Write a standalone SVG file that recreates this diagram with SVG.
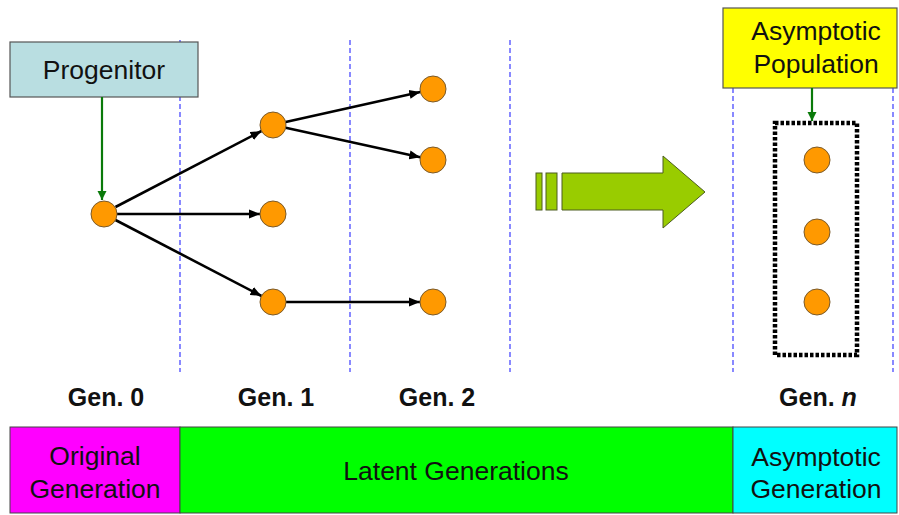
<svg xmlns="http://www.w3.org/2000/svg" width="899" height="515" viewBox="0 0 899 515">
<style>
  .bg { fill: #ffffff; }
  .guide { stroke: #3b3bff; stroke-width: 1.2; stroke-dasharray: 5 3; fill: none; }
  .cell { fill: #FF9900; stroke: #7a5a2a; stroke-width: 1; }
  .edge { stroke: #000000; stroke-width: 2.6; fill: none; }
  .gedge { stroke: #0a7a0a; stroke-width: 2.2; fill: none; }
  .label { font-family: "Liberation Sans", Arial, sans-serif; font-size: 26.5px; fill: #111111; text-anchor: middle; }
  .gen { font-family: "Liberation Sans", Arial, sans-serif; font-size: 25px; font-weight: bold; fill: #111111; text-anchor: middle; }
  .band { stroke: #444444; stroke-width: 1; }
  .bigarrow { fill: #99CC00; stroke: #4d5d20; stroke-width: 1; }
</style>
<defs>
  <marker id="ah" markerUnits="userSpaceOnUse" markerWidth="12" markerHeight="10" refX="11" refY="5" orient="auto">
    <path d="M0,0.5 L11,5 L0,9.5 Z" fill="#000000"/>
  </marker>
  <marker id="gah" markerUnits="userSpaceOnUse" markerWidth="10" markerHeight="10" refX="9" refY="5" orient="auto">
    <path d="M0,0.5 L9,5 L0,9.5 Z" fill="#0a7a0a"/>
  </marker>
</defs>
<rect class="bg" x="0" y="0" width="899" height="515"/>

<g id="guides">
  <line class="guide" x1="180" y1="40" x2="180" y2="372"/>
  <line class="guide" x1="350" y1="40" x2="350" y2="372"/>
  <line class="guide" x1="510" y1="40" x2="510" y2="372"/>
  <line class="guide" x1="733" y1="88" x2="733" y2="372"/>
  <line class="guide" x1="893" y1="88" x2="893" y2="372"/>
</g>

<g id="progenitor">
  <rect x="10" y="42" width="188" height="55" fill="#B9DEE1" stroke="#555555" stroke-width="1.2"/>
  <text class="label" x="104" y="79">Progenitor</text>
</g>

<g id="asymptotic-population">
  <rect x="723" y="8" width="174" height="80" fill="#FFFF00" stroke="#555555" stroke-width="1.2"/>
  <text class="label" x="816" y="40">Asymptotic</text>
  <text class="label" x="816" y="73">Population</text>
</g>

<g id="population-box">
  <rect x="775" y="123" width="82" height="232" fill="none" stroke="#000000" stroke-width="4.5" stroke-dasharray="3.5 2"/>
</g>

<g id="connectors">
  <line class="gedge" x1="102" y1="97" x2="102" y2="200" marker-end="url(#gah)"/>
  <line class="gedge" x1="812" y1="88" x2="812" y2="121" marker-end="url(#gah)"/>
  <line class="edge" x1="115.5" y1="207" x2="261.5" y2="131" marker-end="url(#ah)"/>
  <line class="edge" x1="117" y1="214" x2="260" y2="214" marker-end="url(#ah)"/>
  <line class="edge" x1="115.5" y1="220" x2="261.5" y2="296" marker-end="url(#ah)"/>
  <line class="edge" x1="285.7" y1="122" x2="420.3" y2="92" marker-end="url(#ah)"/>
  <line class="edge" x1="285.7" y1="127.8" x2="420.3" y2="157.2" marker-end="url(#ah)"/>
  <line class="edge" x1="286" y1="302" x2="420" y2="302" marker-end="url(#ah)"/>
</g>

<g id="gen0-node"><circle class="cell" cx="104" cy="214" r="13"/></g>
<g id="gen1-node-a"><circle class="cell" cx="273" cy="125" r="13"/></g>
<g id="gen1-node-b"><circle class="cell" cx="273" cy="214" r="13"/></g>
<g id="gen1-node-c"><circle class="cell" cx="273" cy="302" r="13"/></g>
<g id="gen2-node-a"><circle class="cell" cx="433" cy="89" r="13"/></g>
<g id="gen2-node-b"><circle class="cell" cx="433" cy="160" r="13"/></g>
<g id="gen2-node-c"><circle class="cell" cx="433" cy="302" r="13"/></g>
<g id="genn-node-a"><circle class="cell" cx="817" cy="160" r="13"/></g>
<g id="genn-node-b"><circle class="cell" cx="817" cy="232" r="13"/></g>
<g id="genn-node-c"><circle class="cell" cx="817" cy="302" r="13"/></g>

<g id="big-arrow">
  <rect class="bigarrow" x="536" y="173" width="6" height="37"/>
  <rect class="bigarrow" x="546" y="173" width="11" height="37"/>
  <polygon class="bigarrow" points="562,173 663,173 663,156 705,192 663,228 663,210 562,210"/>
</g>

<g id="gen-labels">
  <text class="gen" x="106" y="406">Gen. 0</text>
  <text class="gen" x="276" y="406">Gen. 1</text>
  <text class="gen" x="437" y="406">Gen. 2</text>
  <text class="gen" x="818" y="406">Gen. <tspan font-style="italic">n</tspan></text>
</g>

<g id="original-generation">
  <rect class="band" x="10" y="427" width="170" height="86" fill="#FF00FF"/>
  <text class="label" x="95" y="465">Original</text>
  <text class="label" x="95" y="498">Generation</text>
</g>
<g id="latent-generations">
  <rect class="band" x="180" y="427" width="553" height="86" fill="#00FF00"/>
  <text class="label" x="456" y="480">Latent Generations</text>
</g>
<g id="asymptotic-generation">
  <rect class="band" x="733" y="427" width="164" height="86" fill="#00FFFF"/>
  <text class="label" x="816" y="466">Asymptotic</text>
  <text class="label" x="816" y="498">Generation</text>
</g>
</svg>
